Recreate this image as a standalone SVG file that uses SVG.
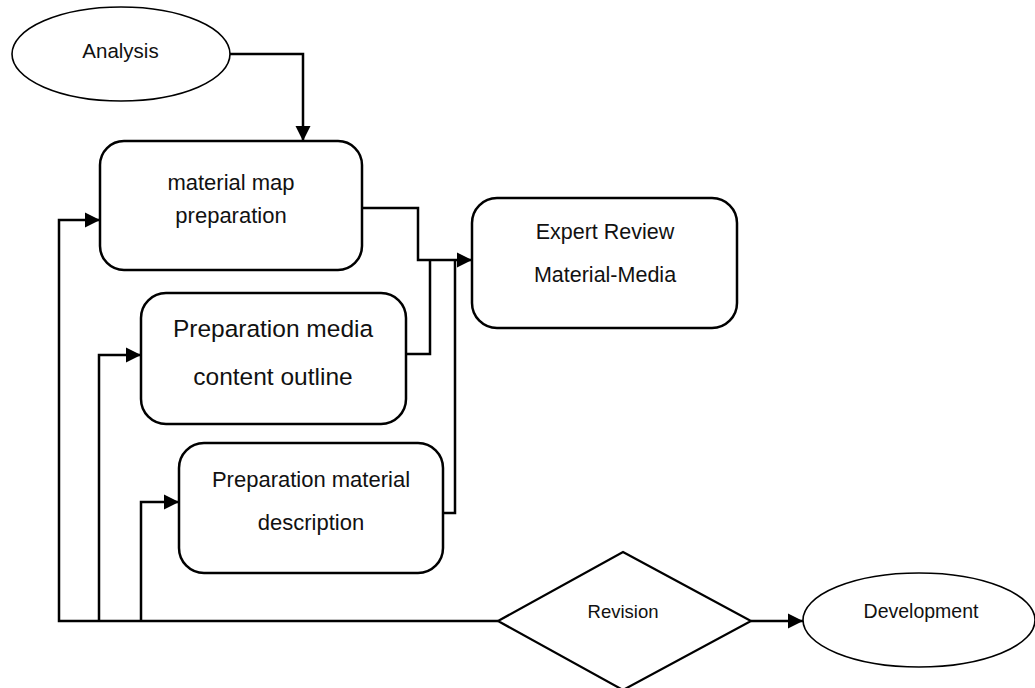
<svg xmlns="http://www.w3.org/2000/svg" width="1035" height="688" viewBox="0 0 1035 688">
<style>
.box{fill:#fff;stroke:#000;stroke-width:2.5}
.ell{fill:#fff;stroke:#000;stroke-width:1.6}
.dia{fill:#fff;stroke:#000;stroke-width:2.2}
.con{fill:none;stroke:#000;stroke-width:2.5}
text{font-family:"Liberation Sans",Arial,sans-serif;fill:#111;text-anchor:middle}
</style>
<defs>
<marker id="arr" markerUnits="userSpaceOnUse" markerWidth="16" markerHeight="16" refX="15" refY="8" orient="auto">
<path d="M0,0.5 L15,8 L0,15.5 z" fill="#000"/>
</marker>
</defs>
<rect width="1035" height="688" fill="#fff"/>
<g id="connectors">
<path class="con" d="M230,54 H303 V141" marker-end="url(#arr)"/>
<path class="con" d="M362,208 H418 V260 H472" marker-end="url(#arr)"/>
<path class="con" d="M406,354 H430 V260"/>
<path class="con" d="M443,513 H455 V260"/>
<path class="con" d="M498,621 H59 V220 H100" marker-end="url(#arr)"/>
<path class="con" d="M99,621 V355 H141" marker-end="url(#arr)"/>
<path class="con" d="M141,621 V502 H179" marker-end="url(#arr)"/>
<path class="con" d="M751,621 H803" marker-end="url(#arr)"/>
</g>
<g id="analysis">
<ellipse class="ell" cx="121" cy="54" rx="109" ry="47"/>
<text x="120.5" y="58" font-size="20.5">Analysis</text>
</g>
<g id="material-map">
<rect class="box" x="100" y="141" width="262" height="129" rx="24"/>
<text x="231" y="190" font-size="22">material map</text>
<text x="231" y="223" font-size="22">preparation</text>
</g>
<g id="expert-review">
<rect class="box" x="472" y="198" width="265" height="130" rx="25"/>
<text x="605" y="239" font-size="21.5">Expert Review</text>
<text x="605" y="282" font-size="21.5">Material-Media</text>
</g>
<g id="prep-media">
<rect class="box" x="141" y="293" width="265" height="131" rx="25"/>
<text x="273" y="337" font-size="24.5">Preparation media</text>
<text x="273" y="385" font-size="24.5">content outline</text>
</g>
<g id="prep-material">
<rect class="box" x="179" y="443" width="264" height="130" rx="25"/>
<text x="311" y="487" font-size="22">Preparation material</text>
<text x="311" y="530" font-size="22">description</text>
</g>
<g id="revision">
<polygon class="dia" points="623,552 751,621 623,690 498,621"/>
<text x="623" y="618" font-size="18.5">Revision</text>
</g>
<g id="development">
<ellipse class="ell" cx="919" cy="620" rx="116" ry="47"/>
<text x="921" y="618" font-size="19.5">Development</text>
</g>
</svg>
